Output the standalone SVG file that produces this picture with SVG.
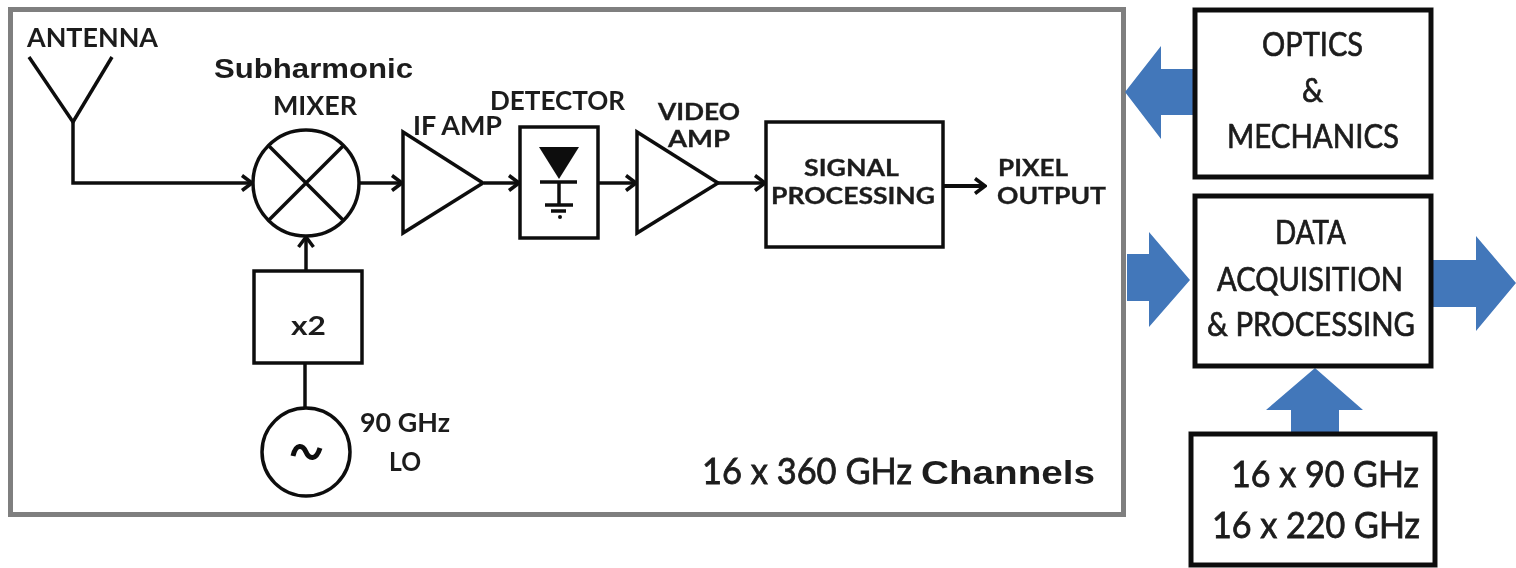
<svg xmlns="http://www.w3.org/2000/svg" width="1516" height="568" viewBox="0 0 1516 568">
<defs>
<marker id="ah" markerUnits="userSpaceOnUse" markerWidth="16" markerHeight="20" refX="14" refY="10" orient="auto"><path d="M4 2.500 L14 10 L4 17.500" fill="none" stroke="#111" stroke-width="3.500"/></marker>
<filter id="soft" x="-2%" y="-2%" width="104%" height="104%"><feGaussianBlur stdDeviation="0.5"/></filter>
</defs>
<style>
.l{fill:none;stroke:#111;stroke-width:3.500}
.b{fill:#fff;stroke:#111;stroke-width:3.500}
.B{fill:#fff;stroke:#111;stroke-width:5}
.a{fill:#4277ba;stroke:none}
.c{stroke:#111;stroke-width:3.500;fill:none}
text{font-family:"Lato","Open Sans",sans-serif;font-weight:700;fill:#1c1c1c;font-size:27px;text-anchor:start}
.s{font-family:"Liberation Sans",Arial,sans-serif;font-weight:700}
.t{font-size:22px;stroke:#1c1c1c;stroke-width:.3}
.r{font-size:33px;font-weight:400;stroke:#1c1c1c;stroke-width:.7}
.m{font-size:36px;font-weight:400;stroke:#1c1c1c;stroke-width:.8}
</style>
<rect width="1516" height="568" fill="#fff"/>
<g filter="url(#soft)">
<g id="frame"><rect x="10.500" y="9.500" width="1113" height="505" fill="none" stroke="#7f7f7f" stroke-width="5"/></g>
<g id="connectors">
<path class="c" d="M73 122V183H252" marker-end="url(#ah)"/>
<path class="c" d="M360 183H402" marker-end="url(#ah)"/>
<path class="c" d="M484 183H519" marker-end="url(#ah)"/>
<path class="c" d="M598 183H636" marker-end="url(#ah)"/>
<path class="c" d="M718 183H765" marker-end="url(#ah)"/>
<path class="c" d="M943 186H985" style="stroke-width:4" marker-end="url(#ah)"/>
<path class="c" d="M306 271V237" marker-end="url(#ah)"/>
<path class="c" d="M305 363V407"/>
<path class="a" d="M1194 69H1161V46L1125 92L1161 139V115H1194Z"/>
<path class="a" d="M1127 254H1149V232L1190 280L1149 327V301H1127Z"/>
<path class="a" d="M1431 260H1476V236L1516 283L1476 331V307H1431Z"/>
<path class="a" d="M1291 433V410H1266L1315 368L1363 410H1339V433Z"/>
</g>
<g id="antenna"><path class="l" d="M29 57L73 122L112 57"/><text x="27" y="47" textLength="131" lengthAdjust="spacingAndGlyphs">ANTENNA</text></g>
<g id="mixer"><circle class="b" cx="306" cy="183" r="53"/><path class="l" d="M269 146L343 220M343 146L269 220"/>
<text class="s" x="214" y="78" textLength="199" lengthAdjust="spacingAndGlyphs" style="font-size:28px">Subharmonic</text>
<text x="273" y="115" textLength="84" lengthAdjust="spacingAndGlyphs">MIXER</text></g>
<g id="if-amp"><path class="b" d="M403 132V233L483 183Z"/><text x="413" y="135" textLength="89" lengthAdjust="spacingAndGlyphs">IF AMP</text></g>
<g id="detector"><rect class="b" x="520" y="127" width="78" height="111"/>
<path d="M539 147H579L559 179Z" fill="#111"/>
<path class="l" d="M540 182H577M559 182V205M545 205H573M551 211H566"/><circle cx="560" cy="217" r="2" fill="#111"/>
<text x="490" y="110" textLength="135" lengthAdjust="spacingAndGlyphs">DETECTOR</text></g>
<g id="video-amp"><path class="b" d="M637 132V233L718 183Z"/><text class="t" x="658" y="120" textLength="82" lengthAdjust="spacingAndGlyphs">VIDEO</text><text class="t" x="668" y="147" textLength="62" lengthAdjust="spacingAndGlyphs">AMP</text></g>
<g id="signal-processing"><rect class="b" x="766" y="122" width="177" height="125"/><text class="t" x="804" y="176" textLength="95" lengthAdjust="spacingAndGlyphs">SIGNAL</text><text class="t" x="771" y="204" textLength="164" lengthAdjust="spacingAndGlyphs">PROCESSING</text></g>
<g id="pixel-output"><text class="t" x="998" y="176" textLength="70" lengthAdjust="spacingAndGlyphs">PIXEL</text><text class="t" x="997" y="204" textLength="109" lengthAdjust="spacingAndGlyphs">OUTPUT</text></g>
<g id="doubler"><rect class="b" x="254" y="271" width="108" height="92"/><text x="291" y="335" textLength="35" lengthAdjust="spacingAndGlyphs">x2</text></g>
<g id="oscillator"><circle class="b" cx="306" cy="452" r="44"/><path class="l" d="M293 456C296 443 303 445 306 452C309 459 316 461 320 448" style="stroke-width:5"/><text x="360" y="432" textLength="90" lengthAdjust="spacingAndGlyphs">90 GHz</text><text x="389" y="471" textLength="32" lengthAdjust="spacingAndGlyphs">LO</text></g>
<g id="channels-label"><text class="m" x="702" y="484" textLength="210" lengthAdjust="spacingAndGlyphs">16 x 360 GHz</text><text class="s" x="921" y="484" textLength="174" lengthAdjust="spacingAndGlyphs" style="font-size:33px">Channels</text></g>
<g id="optics"><rect class="B" x="1195" y="10" width="236" height="167"/><text class="r" x="1262" y="56" textLength="101" lengthAdjust="spacingAndGlyphs">OPTICS</text><text class="r" x="1302" y="102" textLength="21" lengthAdjust="spacingAndGlyphs">&amp;</text><text class="r" x="1227" y="148" textLength="172" lengthAdjust="spacingAndGlyphs">MECHANICS</text></g>
<g id="data-acquisition"><rect class="B" x="1195" y="196" width="236" height="170"/><text class="r" x="1275" y="244" textLength="71" lengthAdjust="spacingAndGlyphs">DATA</text><text class="r" x="1217" y="291" textLength="186" lengthAdjust="spacingAndGlyphs">ACQUISITION</text><text class="r" x="1207" y="336" textLength="208" lengthAdjust="spacingAndGlyphs">&amp; PROCESSING</text></g>
<g id="other-channels"><rect class="B" x="1191" y="434" width="244" height="131"/><text class="m" x="1231" y="487" textLength="188" lengthAdjust="spacingAndGlyphs">16 x 90 GHz</text><text class="m" x="1212" y="538" textLength="208" lengthAdjust="spacingAndGlyphs">16 x 220 GHz</text></g>
</g>
</svg>
